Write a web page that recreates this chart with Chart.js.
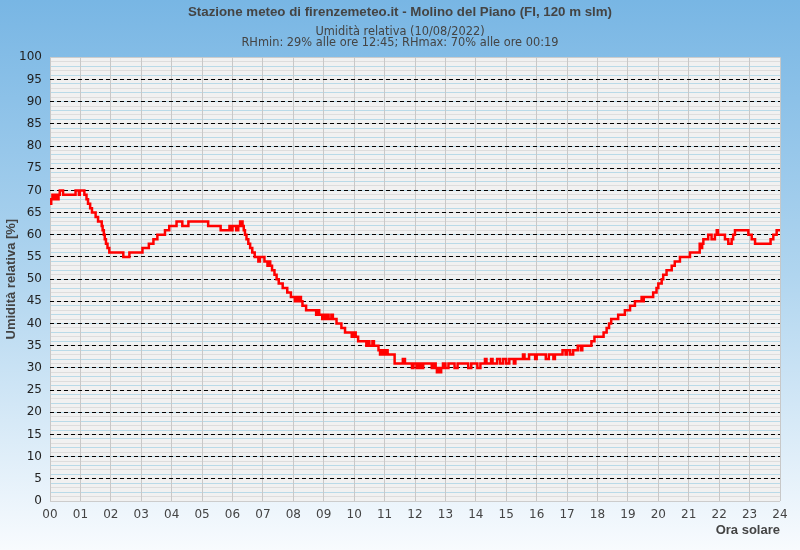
<!DOCTYPE html>
<html><head><meta charset="utf-8">
<script src="https://cdn.jsdelivr.net/npm/chart.js@4/dist/chart.umd.min.js"></script>
<style>html,body{margin:0;padding:0;background:#fff}canvas{display:block}</style>
</head><body>
<canvas id="c" width="800" height="550"></canvas>
<script>
const TITLE = "Stazione meteo di firenzemeteo.it - Molino del Piano (FI, 120 m slm)";
const SUBTITLE = ["Umidità relativa (10/08/2022)", "RHmin: 29% alle ore 12:45; RHmax: 70% alle ore 00:19"];
const X_TITLE = "Ora solare";
const Y_TITLE = "Umidità relativa [%]";
const xTickLabels = ["00","01","02","03","04","05","06","07","08","09","10","11","12","13","14","15","16","17","18","19","20","21","22","23","24"];
const yTickValues = [0,5,10,15,20,25,30,35,40,45,50,55,60,65,70,75,80,85,90,95,100];

// change points (hour of day, decimal) and relative humidity [%] from that moment on
const hours = [
 0.00,0.04,0.08,0.13,0.18,0.25,0.28,0.32,0.43,0.84,0.95,0.98,1.13,1.20,1.25,1.32,1.38,1.50,1.58,1.70,
 1.73,1.77,1.80,1.84,1.89,1.95,2.41,2.61,3.04,3.25,3.40,3.53,3.78,3.92,4.16,4.35,4.55,5.20,5.61,5.90,
 5.95,6.00,6.12,6.19,6.25,6.33,6.37,6.41,6.46,6.52,6.58,6.65,6.73,6.85,6.90,7.05,7.15,7.20,7.24,7.30,
 7.38,7.45,7.52,7.65,7.80,7.92,8.05,8.10,8.14,8.20,8.25,8.30,8.42,8.75,8.80,8.85,8.95,9.00,9.05,9.12,
 9.16,9.25,9.30,9.42,9.58,9.70,9.92,9.97,10.05,10.13,10.40,10.45,10.50,10.60,10.65,10.80,10.85,10.92,10.97,11.05,
 11.10,11.33,11.60,11.67,11.90,11.95,12.05,12.12,12.20,12.27,12.55,12.62,12.68,12.72,12.77,12.82,12.86,12.92,13.00,13.10,
 13.30,13.40,13.75,13.85,14.05,14.15,14.30,14.35,14.50,14.55,14.70,14.80,14.90,15.00,15.10,15.25,15.30,15.55,15.60,15.75,
 15.95,16.00,16.30,16.40,16.55,16.60,16.85,16.95,17.00,17.10,17.20,17.35,17.45,17.50,17.80,17.90,18.20,18.30,18.38,18.45,
 18.68,18.90,19.07,19.23,19.45,19.48,19.52,19.83,19.94,20.00,20.11,20.16,20.27,20.44,20.54,20.71,21.04,21.36,21.40,21.44,
 21.48,21.64,21.75,21.86,21.92,21.96,22.19,22.30,22.41,22.46,22.52,22.96,23.07,23.18,23.69,23.78,23.89,24.00
];
const humidity = [
 67,68,69,68,69,68,69,70,69,70,69,70,69,68,67,66,65,64,63,62,
 61,60,59,58,57,56,55,56,57,58,59,60,61,62,63,62,63,62,61,62,
 61,62,61,62,63,62,61,60,59,58,57,56,55,54,55,54,53,54,53,52,
 51,50,49,48,47,46,45,46,45,46,45,44,43,42,43,42,41,42,41,42,
 41,42,41,40,39,38,37,38,37,36,35,36,35,36,35,34,33,34,33,34,
 33,31,32,31,30,31,30,31,30,31,30,31,30,29,30,29,30,31,30,31,
 30,31,30,31,30,31,32,31,32,31,32,31,32,31,32,31,32,33,32,33,
 32,33,32,33,32,33,34,33,34,33,34,35,34,35,36,37,38,39,40,41,
 42,43,44,45,46,45,46,47,48,49,50,51,52,53,54,55,56,58,57,58,
 59,60,59,60,61,60,59,58,59,60,61,60,59,58,59,60,61,61
];

const points = hours.map((h, i) => ({x: h, y: humidity[i]}));

const bgPlugin = {
  id: 'bg',
  beforeDraw(chart) {
    const {ctx, chartArea: a, width, height} = chart;
    ctx.save();
    const g = ctx.createLinearGradient(0, 0, 0, height);
    g.addColorStop(0, '#78b6e4');
    g.addColorStop(0.5, '#b0d5ef');
    g.addColorStop(1, '#f8fbfe');
    ctx.fillStyle = g;
    ctx.fillRect(0, 0, width, height);
    ctx.fillStyle = '#f1f1f1';
    ctx.fillRect(a.left, a.top, a.right - a.left, a.bottom - a.top);
    ctx.restore();
  }
};

new Chart(document.getElementById('c'), {
  type: 'line',
  data: {
    datasets: [{
      data: points,
      borderColor: '#ff0000',
      borderWidth: 2.5,
      pointRadius: 0,
      stepped: true,
      fill: false
    }]
  },
  options: {
    responsive: false,
    animation: false,
    devicePixelRatio: 1,
    layout: {padding: {left: 0, right: 0, top: 0, bottom: 0}},
    plugins: {
      legend: {display: false},
      tooltip: {enabled: false},
      title: {display: true, text: TITLE, color: '#444', font: {family: 'Liberation Sans', size: 13.3, weight: 'bold', lineHeight: 1.2}, padding: {top: 4, bottom: 2}},
      subtitle: {display: true, text: SUBTITLE, color: '#444', font: {family: 'DejaVu Sans', size: 11.4, lineHeight: 1.0}, padding: {top: 4, bottom: 8.5}}
    },
    scales: {
      x: {
        type: 'linear', min: 0, max: 24,
        ticks: {stepSize: 1, autoSkip: false, maxRotation: 0, padding: 7, color: '#444',
          font: {family: 'DejaVu Sans', size: 12},
          callback: (v) => xTickLabels[v]},
        grid: {color: '#c8c8c8', drawTicks: false, lineWidth: 1},
        border: {display: false},
        title: {display: true, text: X_TITLE, align: 'end', color: '#444',
          font: {family: 'Liberation Sans', size: 13, weight: 'bold'}, padding: {top: 4, bottom: 12}},
        afterFit(s) { s.height = 49; }
      },
      y: {
        type: 'linear', min: 0, max: 100,
        ticks: {stepSize: 5, padding: 8, color: '#222', font: {family: 'DejaVu Sans', size: 12},
          callback: (v) => yTickValues.includes(v) ? String(v) : ''},
        grid: {drawTicks: false, lineWidth: 1,
          color: (c) => (c.tick && (c.tick.value === 0 || c.tick.value === 100)) ? 'rgba(0,0,0,0)' : '#000'},
        border: {display: false, dash: [4, 3]},
        title: {display: true, text: Y_TITLE, color: '#444',
          font: {family: 'Liberation Sans', size: 13, weight: 'bold'}, padding: {top: 4, bottom: 0}},
        afterFit(s) { s.width = 50; }
      },
      y2: {
        type: 'linear', axis: 'y', position: 'right', min: 0, max: 100,
        ticks: {display: false, stepSize: 1},
        grid: {drawTicks: false, lineWidth: 1, z: -2,
          color: (c) => {
            const v = c.tick ? c.tick.value : 1;
            if (v === 0 || v === 100) return '#cccccc';
            return v % 2 === 0 ? '#b9dae8' : '#dddddd';
          }},
        border: {display: false},
        afterFit(s) { s.width = 20; }
      }
    }
  },
  plugins: [bgPlugin]
});
</script>
</body></html>
